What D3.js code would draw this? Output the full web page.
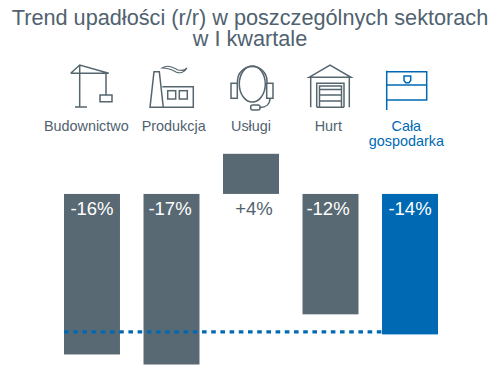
<!DOCTYPE html>
<html>
<head>
<meta charset="utf-8">
<script src="https://cdn.jsdelivr.net/npm/d3@7"></script>
<style>
    html, body { margin: 0; padding: 0; background: #fff; }
    svg { display: block; }
    text { font-family: "Liberation Sans", Arial, sans-serif; }
</style>
</head>
<body>
<div id="mainChart"></div>
<script>
var categories = ["Budownictwo", "Produkcja", "Usługi", "Hurt", "Cała gospodarka"];
var values = [-16, -17, 4, -12, -14];
var valueLabels = ["-16%", "-17%", "+4%", "-12%", "-14%"];
var titleLines = ["Trend upadłości (r/r) w poszczególnych sektorach", "w I kwartale"];
var averageValue = -13.75;

var width = 500, height = 382;
var grey = "#596973", blue = "#0069b4", textGrey = "#50626f";

var svg = d3.select("#mainChart")
    .append("svg")
    .attr("width", width)
    .attr("height", height);

var xScale = d3.scaleBand()
    .domain(categories)
    .range([64, 438])
    .paddingInner(0.296);

var yScale = d3.scaleLinear()
    .domain([-17, 4])
    .range([364.5, 153.8]);

function barColor(d) {
    return d === "Cała gospodarka" ? blue : grey;
}

// title, one text with two lines
svg.append("text")
    .attr("text-anchor", "middle")
    .attr("font-size", 21.7)
    .attr("fill", textGrey)
    .selectAll("tspan")
    .data(titleLines)
    .join("tspan")
    .attr("x", 250)
    .attr("y", (d, i) => 24.5 + i * 21.5)
    .text(d => d);

// bars
svg.append("g").selectAll("rect")
    .data(values)
    .join("rect")
    .attr("x", (d, i) => xScale(categories[i]))
    .attr("y", d => yScale(Math.max(d, 0)))
    .attr("width", xScale.bandwidth())
    .attr("height", d => Math.abs(yScale(d) - yScale(0)))
    .attr("fill", (d, i) => barColor(categories[i]));

// dotted average line, stops at the blue bar
svg.append("line")
    .attr("x1", xScale(categories[0]))
    .attr("x2", xScale(categories[4]))
    .attr("y1", yScale(averageValue))
    .attr("y2", yScale(averageValue))
    .attr("stroke", blue)
    .attr("stroke-width", 3.2)
    .attr("stroke-dasharray", "4.6,4.6");

// value labels, nudged a little off the bar centres like the original
var valueNudge = { "-17%": -1.5, "+4%": 3, "-12%": -2.5 };

svg.append("g").selectAll("text")
    .data(valueLabels)
    .join("text")
    .attr("x", (d, i) => xScale(categories[i]) + xScale.bandwidth() / 2 + (valueNudge[d] || 0))
    .attr("y", 215)
    .attr("text-anchor", "middle")
    .attr("font-size", 18.5)
    .attr("fill", (d, i) => values[i] > 0 ? textGrey : "#fff")
    .text(d => d);

// category labels sit under the icons, not the bars
var iconCenters = { "Budownictwo": 86.3, "Produkcja": 173.7, "Usługi": 251, "Hurt": 328.3, "Cała gospodarka": 406.3 };

svg.append("g").selectAll("text")
    .data(categories)
    .join("text")
    .attr("text-anchor", "middle")
    .attr("font-size", 14.4)
    .attr("fill", d => d === "Cała gospodarka" ? blue : textGrey)
    .each(function (d) {
        d3.select(this).selectAll("tspan")
            .data(d.split(" "))
            .join("tspan")
            .attr("x", iconCenters[d])
            .attr("y", (w, i) => 130.5 + i * 15.5)
            .text(w => w);
    });

// icons
var icons = svg.append("g")
    .attr("fill", "none")
    .attr("stroke-width", 1.5)
    .attr("stroke", "#56666f");

// crane
icons.append("path").attr("d", "M79.7 65V107M75 107H87M70.7 73.3H108.7L79.7 65L70.7 73.3M106 73.3V95M100 95H112V101.7H100Z");

// factory
icons.append("path").attr("d", "M150 107.3L154 71.7H159.3L163.3 107.3ZM163.3 107.3H193.3V86.7H162.3");
icons.append("rect").attr("x", 167.7).attr("y", 90.7).attr("width", 8).attr("height", 8.3);
icons.append("rect").attr("x", 179.3).attr("y", 90.7).attr("width", 8).attr("height", 8.3);
icons.append("path")
    .attr("d", "M162 68C168 64 174 68 178 70C182 71 185 70 187 68C185 72 180 74 176 72C171 69 167 68 162 68Z")
    .attr("stroke-width", 1.1);

// headset
icons.append("ellipse").attr("cx", 252.3).attr("cy", 84).attr("rx", 13).attr("ry", 18);
icons.append("path").attr("d", "M237.5 83V81C237.5 73 244 66.5 252.3 66.5C260.6 66.5 267 73 267 81V83");
icons.append("rect").attr("x", 231).attr("y", 83.3).attr("width", 6.3).attr("height", 15);
icons.append("rect").attr("x", 266.7).attr("y", 83.3).attr("width", 6.3).attr("height", 15);
icons.append("path").attr("d", "M270 98.3C270 104 266 107.5 260 107.5");
icons.append("rect").attr("x", 250.7).attr("y", 105).attr("width", 9.3).attr("height", 5).attr("rx", 2);

// warehouse
icons.append("path").attr("d", "M309 77.3L330 65L351 77.3ZM310.7 77.3V107.3M349.3 77.3V107.3M316.7 107.3V83.3H344V107.3M319.5 107.3V86H341.5V107.3M319.5 89.5H341.5M319.5 95H341.5M319.5 101H341.5M316.7 107.3H344");

// flag
icons.append("path")
    .attr("stroke", blue)
    .attr("d", "M386.7 70.7V110M386.7 71.7H426.7V100H386.7M386.7 85H426.7M404 76H410.7V80.5L409 82.7H405.7L404 80.5Z");
</script>
</body>
</html>
